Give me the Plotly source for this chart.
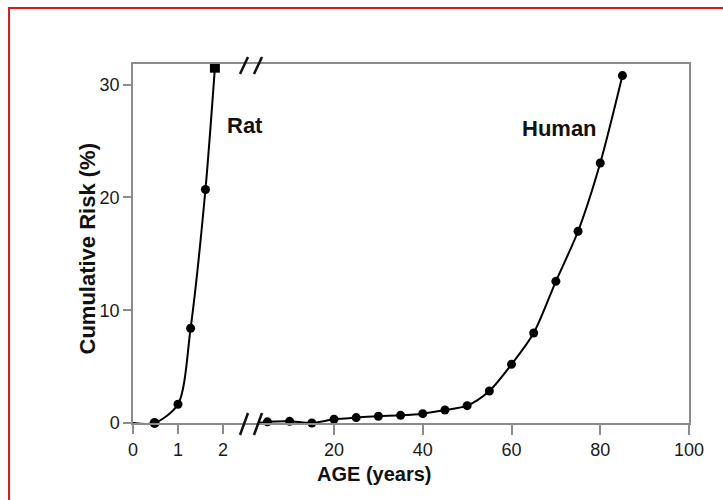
import plotly.graph_objects as go

# ---- data ----
rat_age = [0.0, 0.48, 1.0, 1.28, 1.61, 1.82]
rat_risk = [0.0, 0.0, 1.66, 8.4, 20.7, 31.5]
rat_marker_size = [0, 10, 9, 9, 9, 10]
rat_marker_symbol = ["circle", "circle", "circle", "circle", "circle", "square"]

human_age = [3, 5, 10, 15, 20, 25, 30, 35, 40, 45, 50, 55, 60, 65, 70, 75, 80, 85]
human_risk = [0.0, 0.1, 0.15, 0.0, 0.33, 0.48, 0.6, 0.68, 0.83, 1.15, 1.54,
              2.84, 5.2, 7.98, 12.56, 17.0, 23.05, 30.8]
human_marker_size = [0] + [9] * 17

rat_ticks = [0, 1, 2]
human_ticks = [20, 40, 60, 80, 100]
y_ticks = [0, 10, 20, 30]

W, H = 723, 500
ML, MR, MT, MB = 133, 34, 64, 77
PW, PH = W - ML - MR, H - MT - MB

FONT = "Arial, Liberation Sans, sans-serif"

def px2paper(px, py):
    return (px - ML) / PW, (H - MB - py) / PH

fig = go.Figure()

fig.add_trace(go.Scatter(
    x=rat_age, y=rat_risk, xaxis="x2", yaxis="y",
    mode="lines+markers",
    line=dict(color="black", width=2, shape="spline", smoothing=0.8),
    marker=dict(color="black", size=rat_marker_size, symbol=rat_marker_symbol,
                opacity=1, line=dict(width=0)),
    cliponaxis=False, showlegend=False,
))
fig.add_trace(go.Scatter(
    x=human_age, y=human_risk, xaxis="x", yaxis="y",
    mode="lines+markers",
    line=dict(color="black", width=2, shape="spline", smoothing=0.8),
    marker=dict(color="black", size=human_marker_size, opacity=1,
                line=dict(width=0)),
    cliponaxis=False, showlegend=False,
))

axis_line = "#8c8c8c"
fig.update_layout(
    width=W, height=H,
    margin=dict(l=ML, r=MR, t=MT, b=MB),
    paper_bgcolor="white", plot_bgcolor="white",
    font=dict(family=FONT, color="#1a1a1a"),
    xaxis=dict(range=[-25.3, 100.0], tickvals=human_ticks, ticks="outside",
               ticklen=10, tickcolor=axis_line, tickwidth=1.5,
               showline=True, linecolor=axis_line, linewidth=1.5, mirror=True,
               showgrid=False, zeroline=False, tickfont=dict(size=18)),
    xaxis2=dict(range=[0, PW / 45.0], tickvals=rat_ticks, ticks="outside",
                ticklen=10, tickcolor=axis_line, tickwidth=1.5,
                overlaying="x", side="bottom", anchor="y",
                showline=False, showgrid=False, zeroline=False,
                tickfont=dict(size=18)),
    yaxis=dict(range=[0, PH / 11.28], tickvals=y_ticks, ticks="outside",
               ticklen=8, tickcolor=axis_line, tickwidth=1.5,
               showline=True, linecolor=axis_line, linewidth=1.5, mirror=True,
               showgrid=False, zeroline=False, tickfont=dict(size=18)),
)

# axis titles
x0, y0 = px2paper(72, 249)
fig.add_annotation(text="<b>Cumulative Risk (%)</b>", x=x0, y=y0, xref="paper",
                   yref="paper", textangle=-90, showarrow=False,
                   font=dict(size=22, family=FONT, color="#111111"))
x0, y0 = px2paper(374, 487)
fig.add_annotation(text="<b>AGE (years)</b>", x=x0, y=y0, xref="paper",
                   yref="paper", showarrow=False,
                   font=dict(size=20, family=FONT, color="#111111"))

# series labels
fig.add_annotation(text="<b>Rat</b>", x=2.49, y=26.4, xref="x2", yref="y",
                   showarrow=False, font=dict(size=22, family=FONT, color="#111111"))
fig.add_annotation(text="<b>Human</b>", x=70.9, y=26.1, xref="x", yref="y",
                   showarrow=False, font=dict(size=22, family=FONT, color="#111111"))

# axis break marks (//) at top and bottom
for cx in (244, 258):
    for (ytop, ybot) in ((57, 74), (413, 435)):
        xa, ya = px2paper(cx - 4, ybot)
        xb, yb = px2paper(cx + 4, ytop)
        fig.add_shape(type="line", xref="paper", yref="paper",
                      x0=xa, y0=ya, x1=xb, y1=yb,
                      line=dict(color="#111111", width=2.5))

# red frame of the image
xa, ya = px2paper(9, 600)
xb, yb = px2paper(800, 8)
fig.add_shape(type="rect", xref="paper", yref="paper", x0=xa, y0=ya, x1=xb, y1=yb,
              line=dict(color="#e8141c", width=2), layer="above")

fig.write_html("out.html", config={"displayModeBar": False},
               post_script="document.body.style.margin='0';document.body.style.overflow='hidden';")
